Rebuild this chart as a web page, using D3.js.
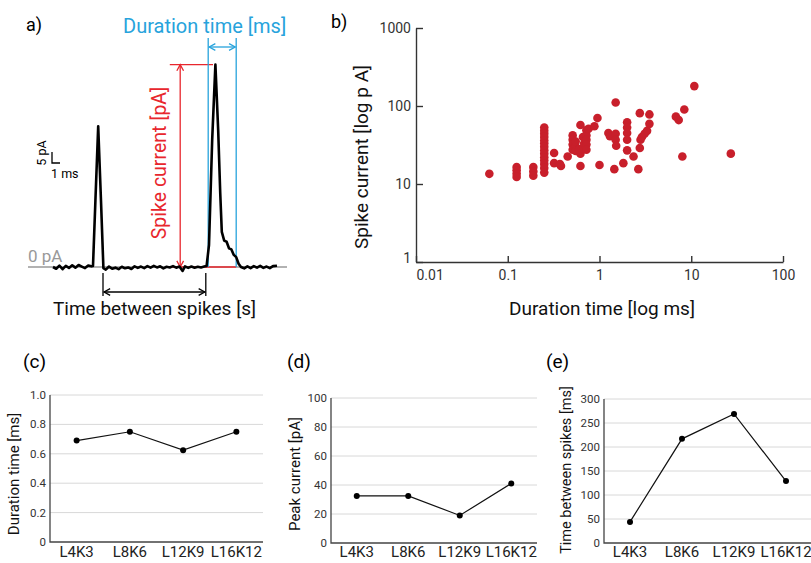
<!DOCTYPE html>
<html>
<head>
<meta charset="utf-8">
<script src="https://cdn.jsdelivr.net/npm/d3@7"></script>
<style>
body { margin: 0; background: #fff; }
text { font-family: Roboto, "Open Sans", sans-serif; }
</style>
</head>
<body>
<script>
// ---- data ----
// panel a: example trace (ms, pA)
var traceT = [0, 0.4, 0.8, 1.2, 1.6, 2.0, 2.4, 2.8, 3.2, 3.6, 4.0, 4.4, 4.8, 5.0, 5.3, 5.65, 6.0, 6.3,
  6.6, 7.0, 7.4, 7.8, 8.2, 8.6, 9.0, 9.4, 9.8, 10.2, 10.6, 11.0, 11.4, 11.8, 12.2, 12.6, 13.0, 13.4,
  13.8, 14.2, 14.6, 15.0, 15.4, 15.8, 16.2, 16.5, 16.9, 17.3, 17.7, 18.1, 18.5, 18.9, 19.2, 19.5,
  19.9, 20.3, 20.65, 20.9, 21.1, 21.4, 21.7, 22.0, 22.3, 22.6, 22.9, 23.2, 23.5, 23.9, 24.3, 24.7,
  25.1, 25.5, 25.9, 26.3, 26.7, 27.1, 27.5, 28.0];
var traceI = [0, -0.8, 0.6, -1.0, 0.5, -0.4, 0.8, -0.3, 0.9, 0.2, -0.5, 0.7, 0.3, 0.5, 30, 64, 30, -0.5,
  -1.2, 0.2, -0.8, -0.3, -1.0, 0.1, -0.6, -0.2, -0.9, 0.3, -0.4, 0.2, -0.5, 0.4, -0.3, 0.5, -0.2, 0.3,
  -0.6, 0.1, -0.2, 0.4, -0.3, 0.2, -1.8, 0.3, -0.4, 0.2, -0.3, 0.1, -0.2, 0.2, 0.5, 10,
  58, 92, 62, 34, 16, 12, 11.5, 8.5, 8, 5.5, 4.5, 1.5, 0, -0.6, 0.3, -0.5,
  0.4, -0.3, 0.5, -0.4, 0.2, -0.5, 0.4, 0.6];

// panel b: duration (ms) vs spike current (pA)
var durations = [0.063, 0.125, 0.125, 0.125, 0.125, 0.19, 0.19, 0.19,
  0.25, 0.25, 0.25, 0.25, 0.25, 0.25, 0.25, 0.25, 0.25, 0.25, 0.25, 0.25, 0.25, 0.25,
  0.32, 0.32, 0.38, 0.37, 0.45, 0.51, 0.51, 0.51, 0.51, 0.55, 0.55, 0.55, 0.62, 0.62, 0.62, 0.6,
  0.66, 0.68, 0.72, 0.72, 0.72, 0.72, 0.72, 0.76, 0.88, 0.95, 1.0, 1.25, 1.3, 1.5, 1.5, 1.5, 1.52,
  1.45, 1.82, 2.0, 2.0, 2.0, 2.0, 2.0, 2.35, 2.65, 2.75, 2.75, 2.8, 2.9, 3.1, 3.3, 3.5, 3.5,
  6.8, 7.3, 8.4, 8.0, 10.8, 27];
var currents = [13.5, 16.5, 15, 13.5, 12.3, 16.5, 14.5, 12.8,
  53, 48, 44, 40, 36, 33, 30, 27, 24.5, 22, 20, 18, 16, 14,
  25, 18.5, 17, 18, 22.5, 42, 37, 32, 27.5, 30, 26.5, 35, 57, 17, 24.5, 28,
  40, 33, 49, 42, 37, 32, 27.5, 51, 55, 70, 17.5, 45, 41, 111, 44, 37, 31,
  15.5, 18.5, 62, 53, 45, 37, 27, 22.5, 15.5, 81, 29, 37, 40, 44, 48, 78, 59,
  73, 66, 90, 22.5, 180, 24.5];
var logXTicks = [0.01, 0.1, 1, 10, 100];
var logXLabels = ["0.01", "0.1", "1", "10", "100"];
var logYTicks = [1, 10, 100, 1000];
var logYLabels = ["1", "10", "100", "1000"];

// panels c, d, e
var groups = ["L4K3", "L8K6", "L12K9", "L16K12"];
var durationMeans = [0.69, 0.75, 0.625, 0.75];
var peakMeans = [32.5, 32.5, 19, 41];
var spikeGaps = [44, 217, 269, 129];
var durationTicks = [0, 0.2, 0.4, 0.6, 0.8, 1.0];
var peakTicks = [0, 20, 40, 60, 80, 100];
var gapTicks = [0, 50, 100, 150, 200, 250, 300];

var RED = "#e8262d", BLUE = "#27a3dc", DOT = "#c81f2b", AXIS = "#333";

var svg = d3.select("body").append("svg")
  .attr("width", 811).attr("height", 563);

// chevron arrow helper
function arrow(g, x1, y1, x2, y2, color) {
  g.append("line").attr("x1", x1).attr("y1", y1).attr("x2", x2).attr("y2", y2)
    .attr("stroke", color).attr("stroke-width", 1.3);
  var ang = Math.atan2(y2 - y1, x2 - x1), L = 7, w = 0.5;
  [[x1, y1, ang + Math.PI], [x2, y2, ang]].forEach(function(p) {
    var a = p[2];
    g.append("path")
      .attr("d", "M" + (p[0] - L * Math.cos(a - w)) + "," + (p[1] - L * Math.sin(a - w)) +
        "L" + p[0] + "," + p[1] +
        "L" + (p[0] - L * Math.cos(a + w)) + "," + (p[1] - L * Math.sin(a + w)))
      .attr("fill", "none").attr("stroke", color).attr("stroke-width", 1.3);
  });
}

// ---------- panel a ----------
var ga = svg.append("g");
var ax = d3.scaleLinear().domain([0, 28]).range([53, 277]);
var ay = d3.scaleLinear().domain([0, 10]).range([267, 245]);

ga.append("text").attr("x", 26).attr("y", 31).attr("font-size", 18).text("a)");

ga.append("line").attr("x1", 28).attr("x2", 287).attr("y1", ay(0)).attr("y2", ay(0))
  .attr("stroke", "#999").attr("stroke-width", 1.3);
ga.append("text").attr("x", 28).attr("y", 262).attr("font-size", 17).attr("fill", "#999").text("0 pA");

// red spike current annotation
ga.append("line").attr("x1", ax(14.6)).attr("x2", ax(20.0)).attr("y1", ay(92)).attr("y2", ay(92))
  .attr("stroke", RED).attr("stroke-width", 1.3);
ga.append("line").attr("x1", ax(14.6)).attr("x2", ax(22.9)).attr("y1", ay(0)).attr("y2", ay(0))
  .attr("stroke", RED).attr("stroke-width", 1.3);
arrow(ga, ax(15.9), ay(92), ax(15.9), ay(0), RED);
ga.append("text")
  .attr("transform", "translate(" + 166 + "," + 163 + ") rotate(-90)")
  .attr("text-anchor", "middle").attr("font-size", 19.5).attr("fill", RED)
  .text("Spike current [pA]");

// blue duration annotation
[19.4, 22.9].forEach(function(t) {
  ga.append("line").attr("x1", ax(t)).attr("x2", ax(t)).attr("y1", 38).attr("y2", ay(0))
    .attr("stroke", BLUE).attr("stroke-width", 1.3);
});
arrow(ga, ax(19.4) + 1, 47, ax(22.9) - 1, 47, BLUE);
ga.append("text").attr("x", 123).attr("y", 33).attr("font-size", 20).attr("fill", BLUE)
  .text("Duration time [ms]");

// trace
var traceData = traceT.map(function(t, i) { return [t, traceI[i]]; });
ga.append("path").datum(traceData)
  .attr("d", d3.line().x(function(d) { return ax(d[0]); }).y(function(d) { return ay(d[1]); }))
  .attr("fill", "none").attr("stroke", "#000").attr("stroke-width", 2.6)
  .attr("stroke-linejoin", "round");

// scale bar
var sbx = 52, sby = 163;
ga.append("path")
  .attr("d", "M" + sbx + "," + (sby - (ay(0) - ay(5))) + "V" + sby + "H" + (sbx + ax(1) - ax(0)))
  .attr("fill", "none").attr("stroke", "#000").attr("stroke-width", 1.3);
ga.append("text").attr("transform", "translate(46,153) rotate(-90)")
  .attr("text-anchor", "middle").attr("font-size", 12.5).text("5 pA");
ga.append("text").attr("x", 51).attr("y", 178).attr("font-size", 12.5).text("1 ms");

// time between spikes
[6.25, 19.1].forEach(function(t) {
  ga.append("line").attr("x1", ax(t)).attr("x2", ax(t)).attr("y1", 273).attr("y2", 296)
    .attr("stroke", "#000").attr("stroke-width", 1.3);
});
arrow(ga, ax(6.25) + 1, 292, ax(19.1) - 1, 292, "#000");
ga.append("text").attr("x", 53).attr("y", 315).attr("font-size", 19).attr("fill", "#111")
  .text("Time between spikes [s]");

// ---------- panel b ----------
var gb = svg.append("g");
var bx = d3.scaleLog().domain([0.01, 100]).range([416, 783]);
var by = d3.scaleLog().domain([1, 1000]).range([262, 28]);

gb.append("text").attr("x", 331).attr("y", 28).attr("font-size", 18).text("b)");

var yAxB = gb.append("g").attr("transform", "translate(416,0)")
  .call(d3.axisLeft(by).tickValues(logYTicks)
    .tickFormat(function(d, i) { return logYLabels[i]; })
    .tickSizeInner(-7).tickSizeOuter(0).tickPadding(5));
yAxB.selectAll("text").attr("font-size", 14).attr("fill", AXIS)
  .attr("dy", function(d, i) { return i === 0 ? "0.0em" : "0.32em"; });

var xAxB = gb.append("g").attr("transform", "translate(0,262)")
  .call(d3.axisBottom(bx).tickValues(logXTicks)
    .tickFormat(function(d, i) { return logXLabels[i]; })
    .tickSizeInner(-6).tickSizeOuter(0).tickPadding(8));
xAxB.selectAll("text").attr("font-size", 14).attr("fill", AXIS)
  .attr("text-anchor", function(d, i) { return i === 0 ? "start" : "middle"; });

[yAxB, xAxB].forEach(function(a) {
  a.selectAll("path, line").attr("stroke", AXIS).attr("stroke-width", 1.4);
});

gb.selectAll("circle").data(durations).enter().append("circle")
  .attr("cx", function(d) { return bx(d); })
  .attr("cy", function(d, i) { return by(currents[i]); })
  .attr("r", 4.3).attr("fill", DOT);

gb.append("text").attr("transform", "translate(368,157) rotate(-90)")
  .attr("text-anchor", "middle").attr("font-size", 19).attr("fill", "#111")
  .text("Spike current [log p A]");
gb.append("text").attr("x", 602).attr("y", 315)
  .attr("text-anchor", "middle").attr("font-size", 19).attr("fill", "#111")
  .text("Duration time [log ms]");

// ---------- panels c, d, e ----------
function linePanel(o) {
  var g = svg.append("g");
  var x = d3.scalePoint().domain(groups).range([o.x0, o.x1]).padding(0.5);
  var y = d3.scaleLinear().domain([0, o.ticks[o.ticks.length - 1]]).range([o.yb, o.yt]);

  g.append("text").attr("x", o.lx).attr("y", 368).attr("font-size", 19).text(o.letter);

  g.selectAll(".grid").data(o.ticks.slice(1)).enter().append("line")
    .attr("x1", o.x0).attr("x2", o.x1)
    .attr("y1", function(d) { return y(d); }).attr("y2", function(d) { return y(d); })
    .attr("stroke", "#d8d8d8").attr("stroke-width", 1);

  g.selectAll(".tl").data(o.ticks).enter().append("text")
    .attr("x", o.x0 - 4).attr("y", function(d) { return y(d); }).attr("dy", "0.35em")
    .attr("text-anchor", "end").attr("font-size", 11.5).attr("fill", "#333")
    .text(o.fmt);

  g.append("path").attr("d", "M" + o.x0 + "," + o.yt + "V" + o.yb + "H" + o.x1)
    .attr("fill", "none").attr("stroke", "#444").attr("stroke-width", 1.3);

  g.selectAll(".xl").data(groups).enter().append("text")
    .attr("x", function(d) { return x(d); }).attr("y", 557)
    .attr("text-anchor", "middle").attr("font-size", 15).attr("fill", "#222")
    .text(function(d) { return d; });

  g.append("path").datum(o.values)
    .attr("d", d3.line().x(function(d, i) { return x(groups[i]); }).y(function(d) { return y(d); }))
    .attr("fill", "none").attr("stroke", "#111").attr("stroke-width", 1.2);
  g.selectAll("circle").data(o.values).enter().append("circle")
    .attr("cx", function(d, i) { return x(groups[i]); })
    .attr("cy", function(d) { return y(d); })
    .attr("r", 3).attr("fill", "#000");

  g.append("text").attr("transform", "translate(" + o.labx + "," + o.laby + ") rotate(-90)")
    .attr("text-anchor", "middle").attr("font-size", o.labSize).attr("fill", "#111")
    .text(o.label);
}

linePanel({ letter: "(c)", lx: 23, x0: 50, x1: 263, yt: 395, yb: 542, ticks: durationTicks,
  values: durationMeans, fmt: function(d) { return d === 0 ? "0" : d3.format(".1f")(d); },
  label: "Duration time [ms]", labx: 19, laby: 474, labSize: 15 });
linePanel({ letter: "(d)", lx: 287, x0: 331, x1: 537, yt: 398, yb: 543, ticks: peakTicks,
  values: peakMeans, fmt: function(d) { return d; },
  label: "Peak current [pA]", labx: 300, laby: 474, labSize: 15 });
linePanel({ letter: "(e)", lx: 546, x0: 604, x1: 812, yt: 399, yb: 543, ticks: gapTicks,
  values: spikeGaps, fmt: function(d) { return d; },
  label: "Time between spikes [ms]", labx: 571, laby: 470, labSize: 14.5 });
</script>
</body>
</html>
